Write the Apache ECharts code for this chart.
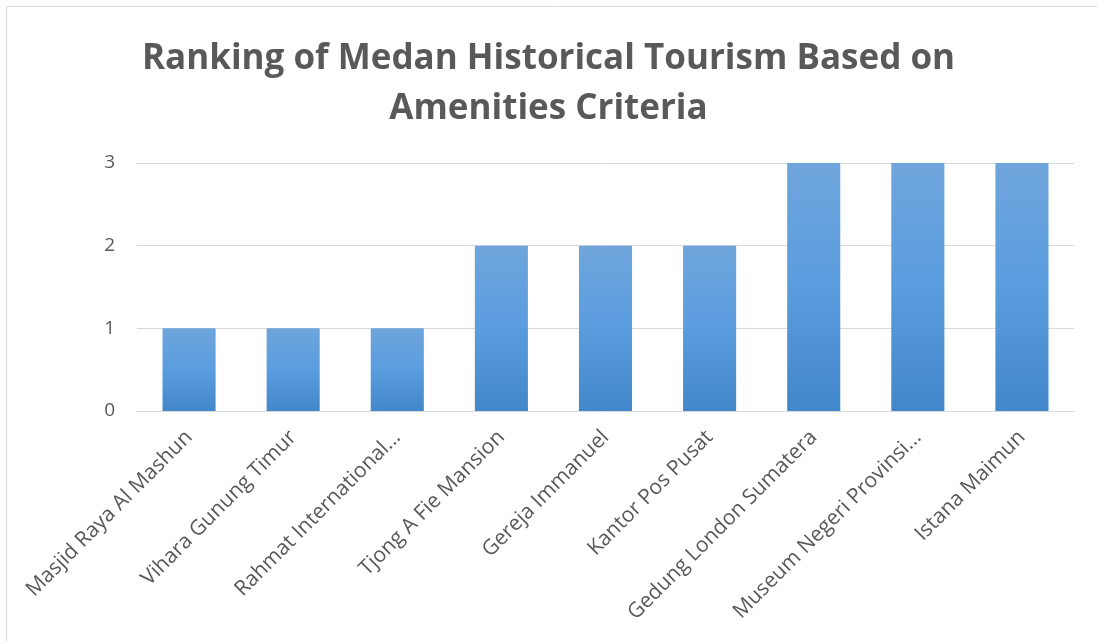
<!DOCTYPE html>
<html>
<head>
<meta charset="utf-8">
<style>
    html, body { margin: 0; padding: 0; background: #fff; }
    #chart { width: 1097px; height: 641px; }
</style>
<script src="https://cdn.jsdelivr.net/npm/echarts@6/dist/echarts.min.js"></script>
</head>
<body>
<div id="chart"></div>
<script>
    // categories and ranking values
    var places = ['Masjid Raya Al Mashun', 'Vihara Gunung Timur', 'Rahmat International...',
        'Tjong A Fie Mansion', 'Gereja Immanuel', 'Kantor Pos Pusat',
        'Gedung London Sumatera', 'Museum Negeri Provinsi...', 'Istana Maimun'];
    var ranks = [1, 1, 1, 2, 2, 2, 3, 3, 3];
    var titleLines = ['Ranking of Medan Historical Tourism Based on', 'Amenities Criteria'];

    var myChart = echarts.init(document.getElementById('chart'));
    myChart.setOption({
        textStyle: { fontFamily: 'Open Sans' },
        //chart frame
        graphic: [{
            type: 'rect',
            shape: { x: 6.5, y: 6.5, width: 1200, height: 700 },
            style: { fill: 'none', stroke: '#d9d9d9', lineWidth: 1 },
            silent: true
        }],
        title: {
            text: titleLines.join('\n'),
            left: 'center',
            top: 29,
            textStyle: {
                fontSize: 35,
                fontWeight: 'bold',
                color: '#595959',
                lineHeight: 50,
                fontFamily: 'Open Sans'
            }
        },
        grid: {
            left: 137,
            right: 23,
            top: 163,
            bottom: 230,
            outerBoundsMode: 'none'
        },
        xAxis: {
            type: 'category',
            data: places,
            axisLine: { lineStyle: { color: '#d9d9d9', width: 1 } },
            axisTick: { show: false },
            axisLabel: {
                rotate: 45,
                interval: 0,
                margin: 23,
                fontSize: 21,
                color: '#595959'
            }
        },
        yAxis: {
            type: 'value',
            min: 0,
            max: 3,
            interval: 1,
            axisLine: { show: false },
            axisTick: { show: false },
            axisLabel: { fontSize: 19, color: '#595959', margin: 22 },
            splitLine: { lineStyle: { color: '#d9d9d9', width: 1 } }
        },
        series: [{
            type: 'bar',
            data: ranks,
            barWidth: '51%',
            itemStyle: {
                color: new echarts.graphic.LinearGradient(0, 0, 0, 1, [
                    { offset: 0, color: '#6fa5dc' },
                    { offset: 0.5, color: '#5a9ddf' },
                    { offset: 1, color: '#4287ca' }
                ]),
                shadowColor: 'rgba(0,0,0,0.35)',
                shadowBlur: 5,
                shadowOffsetY: 1
            }
        }]
    });
</script>
</body>
</html>
